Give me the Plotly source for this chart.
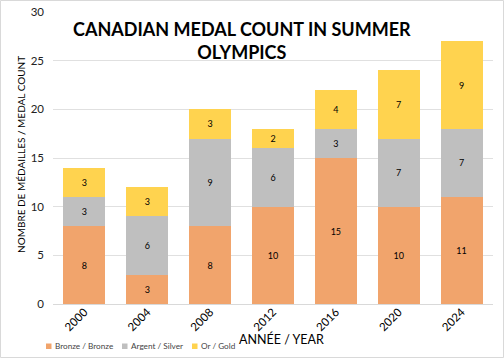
import plotly.graph_objects as go

years = ["2000", "2004", "2008", "2012", "2016", "2020", "2024"]
bronze = [8, 3, 8, 10, 15, 10, 11]
silver = [3, 6, 9, 6, 3, 7, 7]
gold = [3, 3, 3, 2, 4, 7, 9]

names = ["Bronze / Bronze", "Argent / Silver", "Or / Gold"]
colors = ["#F1A46C", "#BFBFBF", "#FFD34F"]
values = [bronze, silver, gold]

FONT = "Lato, Open Sans, sans-serif"
W, H = 504, 358
L, R, T, B = 53, 11, 12, 54
PW, PH = W - L - R, H - T - B

def px(x):
    return (x - L) / PW

def py(y):
    return (H - B - y) / PH

fig = go.Figure()
for name, vals, col in zip(names, values, colors):
    fig.add_trace(go.Bar(
        x=years, y=vals, name=name, marker=dict(color=col, line=dict(width=0)),
        text=[str(v) for v in vals], textposition="inside", insidetextanchor="middle",
        textfont=dict(size=9, color="black", family=FONT), textangle=0,
        showlegend=False, hoverinfo="skip",
    ))

fig.update_layout(
    barmode="stack", bargap=0.333,
    width=W, height=H,
    margin=dict(l=L, r=R, t=T, b=B),
    paper_bgcolor="white", plot_bgcolor="white",
    font=dict(family=FONT, color="black"),
    showlegend=False,
    uniformtext=dict(minsize=8, mode="show"),
)
fig.update_xaxes(
    tickangle=-45, tickfont=dict(size=11.5), showgrid=False, automargin=False,
    showline=True, linecolor="#D9D9D9", linewidth=1, ticklabelstandoff=-4,
)
fig.update_yaxes(
    range=[0, 30], dtick=5, tickfont=dict(size=11.5, color="#222"), automargin=False,
    showgrid=True, gridcolor="#E0E0E0", zeroline=False, showline=False,
    ticklabelstandoff=8,
)
# titles
fig.add_annotation(
    text="<b>CANADIAN MEDAL COUNT IN SUMMER<br>OLYMPICS</b>",
    xref="paper", yref="paper", x=px(242), y=py(41), xanchor="center", yanchor="middle",
    showarrow=False, font=dict(size=18, color="black", family=FONT), align="center",
)
fig.add_annotation(
    text="ANNÉE / YEAR", xref="paper", yref="paper", x=px(281), y=py(339),
    xanchor="center", yanchor="middle", showarrow=False,
    font=dict(size=12.5, color="black", family=FONT),
)
fig.add_annotation(
    text="NOMBRE DE MÉDAILLES / MEDAL COUNT", xref="paper", yref="paper",
    x=px(21), y=py(155), xanchor="center", yanchor="middle", textangle=-90,
    showarrow=False, font=dict(size=10, color="black", family=FONT),
)
# legend
leg_x = [46, 122, 192]
for nm, col, lx in zip(names, colors, leg_x):
    fig.add_shape(type="rect", xref="paper", yref="paper",
                  x0=px(lx), x1=px(lx + 5.5), y0=py(349), y1=py(343.5),
                  fillcolor=col, line=dict(width=0))
    fig.add_annotation(text=nm, xref="paper", yref="paper", x=px(lx + 6.5), y=py(346),
                       xanchor="left", yanchor="middle", showarrow=False,
                       font=dict(size=8.2, color="#444", family=FONT))
fig.add_shape(type="rect", xref="paper", yref="paper",
              x0=px(0.5), x1=px(503.5), y0=py(357.5), y1=py(0.5),
              line=dict(color="#D9D9D9", width=1))
fig.write_html("out.html", config={"displayModeBar": False},
               post_script="document.body.style.margin='0';document.body.style.overflow='hidden';")
